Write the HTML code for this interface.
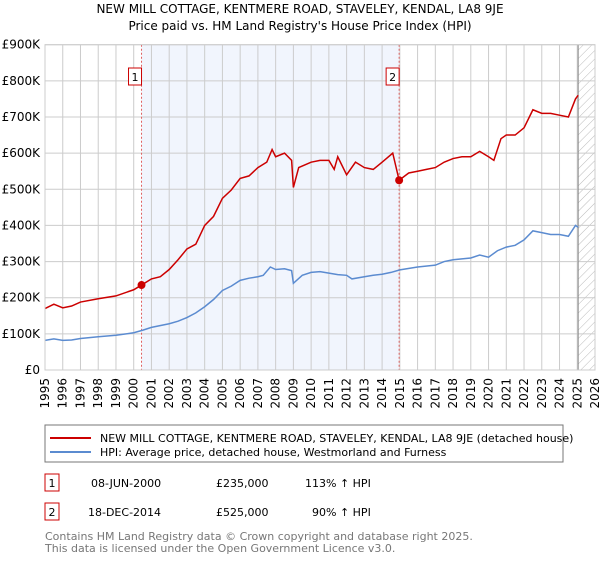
<!DOCTYPE html>
<html><head><meta charset="utf-8"><style>
body{margin:0;background:#fff;font-family:"DejaVu Sans","Liberation Sans",sans-serif;}
svg text{font-family:"DejaVu Sans","Liberation Sans",sans-serif;}
</style></head><body>
<svg id="chart" width="600" height="560" viewBox="0 0 600 560">
<defs><pattern id="hatch" width="6" height="6" patternUnits="userSpaceOnUse" patternTransform="rotate(45)"><line x1="0" y1="0" x2="0" y2="6" stroke="#bbb" stroke-width="1"/></pattern></defs>
<text x="300" y="13" text-anchor="middle" font-size="12">NEW MILL COTTAGE, KENTMERE ROAD, STAVELEY, KENDAL, LA8 9JE</text>
<text x="300" y="30" text-anchor="middle" font-size="12">Price paid vs. HM Land Registry's House Price Index (HPI)</text>
<g id="plot"></g>
<rect x="45" y="425" width="518" height="37" fill="#fff" stroke="#777"/>
<line x1="50" y1="438" x2="91" y2="438" stroke="#cc0000" stroke-width="2"/>
<text x="100" y="442" font-size="11">NEW MILL COTTAGE, KENTMERE ROAD, STAVELEY, KENDAL, LA8 9JE (detached house)</text>
<line x1="50" y1="452" x2="91" y2="452" stroke="#5b8bd0" stroke-width="2"/>
<text x="100" y="456" font-size="11">HPI: Average price, detached house, Westmorland and Furness</text>
<rect x="45" y="474" width="14" height="17" fill="none" stroke="#cc0000"/>
<text x="52" y="487" font-size="11" text-anchor="middle">1</text>
<text x="91" y="487" font-size="11">08-JUN-2000</text>
<text x="216" y="487" font-size="11">£235,000</text>
<text x="305" y="487" font-size="11">113% ↑ HPI</text>
<rect x="45" y="503" width="14" height="17" fill="none" stroke="#cc0000"/>
<text x="52" y="516" font-size="11" text-anchor="middle">2</text>
<text x="88" y="516" font-size="11">18-DEC-2014</text>
<text x="216" y="516" font-size="11">£525,000</text>
<text x="312" y="516" font-size="11">90% ↑ HPI</text>
<text x="45" y="540" font-size="11" fill="#777">Contains HM Land Registry data © Crown copyright and database right 2025.</text>
<text x="45" y="552" font-size="11" fill="#777">This data is licensed under the Open Government Licence v3.0.</text>
</svg>
<script>
const years=[1995,1996,1997,1998,1999,2000,2001,2002,2003,2004,2005,2006,2007,2008,2009,2010,2011,2012,2013,2014,2015,2016,2017,2018,2019,2020,2021,2022,2023,2024,2025,2026];
const yTicks=[0,100,200,300,400,500,600,700,800,900];
const yTickLabels=["£0","£100K","£200K","£300K","£400K","£500K","£600K","£700K","£800K","£900K"];
const hpiT=[1995,1995.5,1996,1996.5,1997,1998,1999,2000,2000.5,2001,2002,2002.5,2003,2003.5,2004,2004.5,2005,2005.5,2006,2006.5,2007,2007.3,2007.7,2008,2008.5,2008.9,2009,2009.5,2010,2010.5,2011,2011.5,2012,2012.3,2013,2013.5,2014,2014.5,2015,2016,2017,2017.5,2018,2019,2019.5,2020,2020.5,2021,2021.5,2022,2022.5,2023,2023.5,2024,2024.5,2024.9,2025.05];
const hpiV=[82,86,82,83,87,92,96,103,110,118,128,135,145,158,175,195,220,232,248,254,258,262,285,278,280,275,240,262,270,272,268,264,262,252,258,262,265,270,277,285,290,300,305,310,318,312,330,340,345,360,385,380,375,375,370,400,395];
const priceT=[1995,1995.5,1996,1996.5,1997,1998,1999,2000,2000.44,2001,2001.5,2002,2002.5,2003,2003.5,2004,2004.5,2005,2005.5,2006,2006.5,2007,2007.5,2007.8,2008,2008.5,2008.9,2009,2009.3,2010,2010.5,2011,2011.3,2011.5,2012,2012.5,2013,2013.5,2014,2014.6,2014.96,2015.5,2016,2016.5,2017,2017.5,2018,2018.5,2019,2019.5,2020,2020.3,2020.7,2021,2021.5,2022,2022.5,2023,2023.5,2024,2024.5,2024.9,2025.05];
const priceV=[170,182,172,177,188,197,205,222,235,252,258,278,305,335,348,400,425,475,498,530,537,560,575,610,590,600,580,505,560,575,580,580,555,590,540,575,560,555,575,600,525,545,550,555,560,575,585,590,590,605,590,580,640,650,650,670,720,710,710,705,700,750,760];
const salesT=[2000.44,2014.96];
const salesV=[235,525];
const salesLabel=["1","2"];
const X0=45,X1=595,Y0=370,Y1=44.7,T0=1995,T1=2026,VMAX=900,TEND=2025.05;
const x=t=>X0+(t-T0)/(T1-T0)*(X1-X0);
const y=v=>Y0-v/VMAX*(Y0-Y1);
const NS="http://www.w3.org/2000/svg";
const g=document.getElementById('plot');
function mk(tag,attrs){const e=document.createElementNS(NS,tag);for(const k in attrs)e.setAttribute(k,attrs[k]);g.appendChild(e);return e;}
let e;
e=mk('rect',{x:x(salesT[0]),y:Y1,width:x(salesT[1])-x(salesT[0]),height:Y0-Y1,fill:'#f1f5fd'});


e=mk('rect',{x:x(TEND),y:Y1,width:X1-x(TEND),height:Y0-Y1,fill:'url(#hatch)'});


years.forEach(t=>{
 e=mk('line',{x1:x(t),x2:x(t),y1:Y1,y2:Y0,stroke:'#ccc','stroke-width':1});
 
 
 e=mk('text',{transform:`translate(${x(t)+4},378) rotate(-90)`,'text-anchor':'end','font-size':12});
 e.textContent=t;
 
 
});
yTicks.forEach((v,i)=>{
 e=mk('line',{x1:X0,x2:X1,y1:y(v),y2:y(v),stroke:'#ccc','stroke-width':1});
 
 
 e=mk('text',{x:40,y:y(v)+4,'text-anchor':'end','font-size':12});
 e.textContent=yTickLabels[i];
 
 
});
e=mk('line',{x1:x(TEND),x2:x(TEND),y1:Y1,y2:Y0,stroke:'#888','stroke-width':1});


salesT.forEach((t,i)=>{
 e=mk('line',{x1:x(t),x2:x(t),y1:Y1,y2:Y0,stroke:'#e06060','stroke-width':1,'stroke-dasharray':'2,2'});
 
 
 e=mk('rect',{x:x(t)-13,y:68,width:13,height:17,fill:'#fff',stroke:'#cc0000'});
 
 
 e=mk('text',{x:x(t)-6.5,y:81,'text-anchor':'middle','font-size':11});
 e.textContent=salesLabel[i];
 
 
});
e=mk('polyline',{points:hpiT.map((t,i)=>x(t)+','+y(hpiV[i])).join(' '),fill:'none',stroke:'#5b8bd0','stroke-width':1.5});


e=mk('polyline',{points:priceT.map((t,i)=>x(t)+','+y(priceV[i])).join(' '),fill:'none',stroke:'#cc0000','stroke-width':1.5});


salesT.forEach((t,i)=>{
 e=mk('circle',{cx:x(t),cy:y(salesV[i]),r:4,fill:'#cc0000'});
 
 
});
e=mk('rect',{x:X0,y:Y1,width:X1-X0,height:Y0-Y1,fill:'none',stroke:'#ccc'});


</script>
</body></html>
